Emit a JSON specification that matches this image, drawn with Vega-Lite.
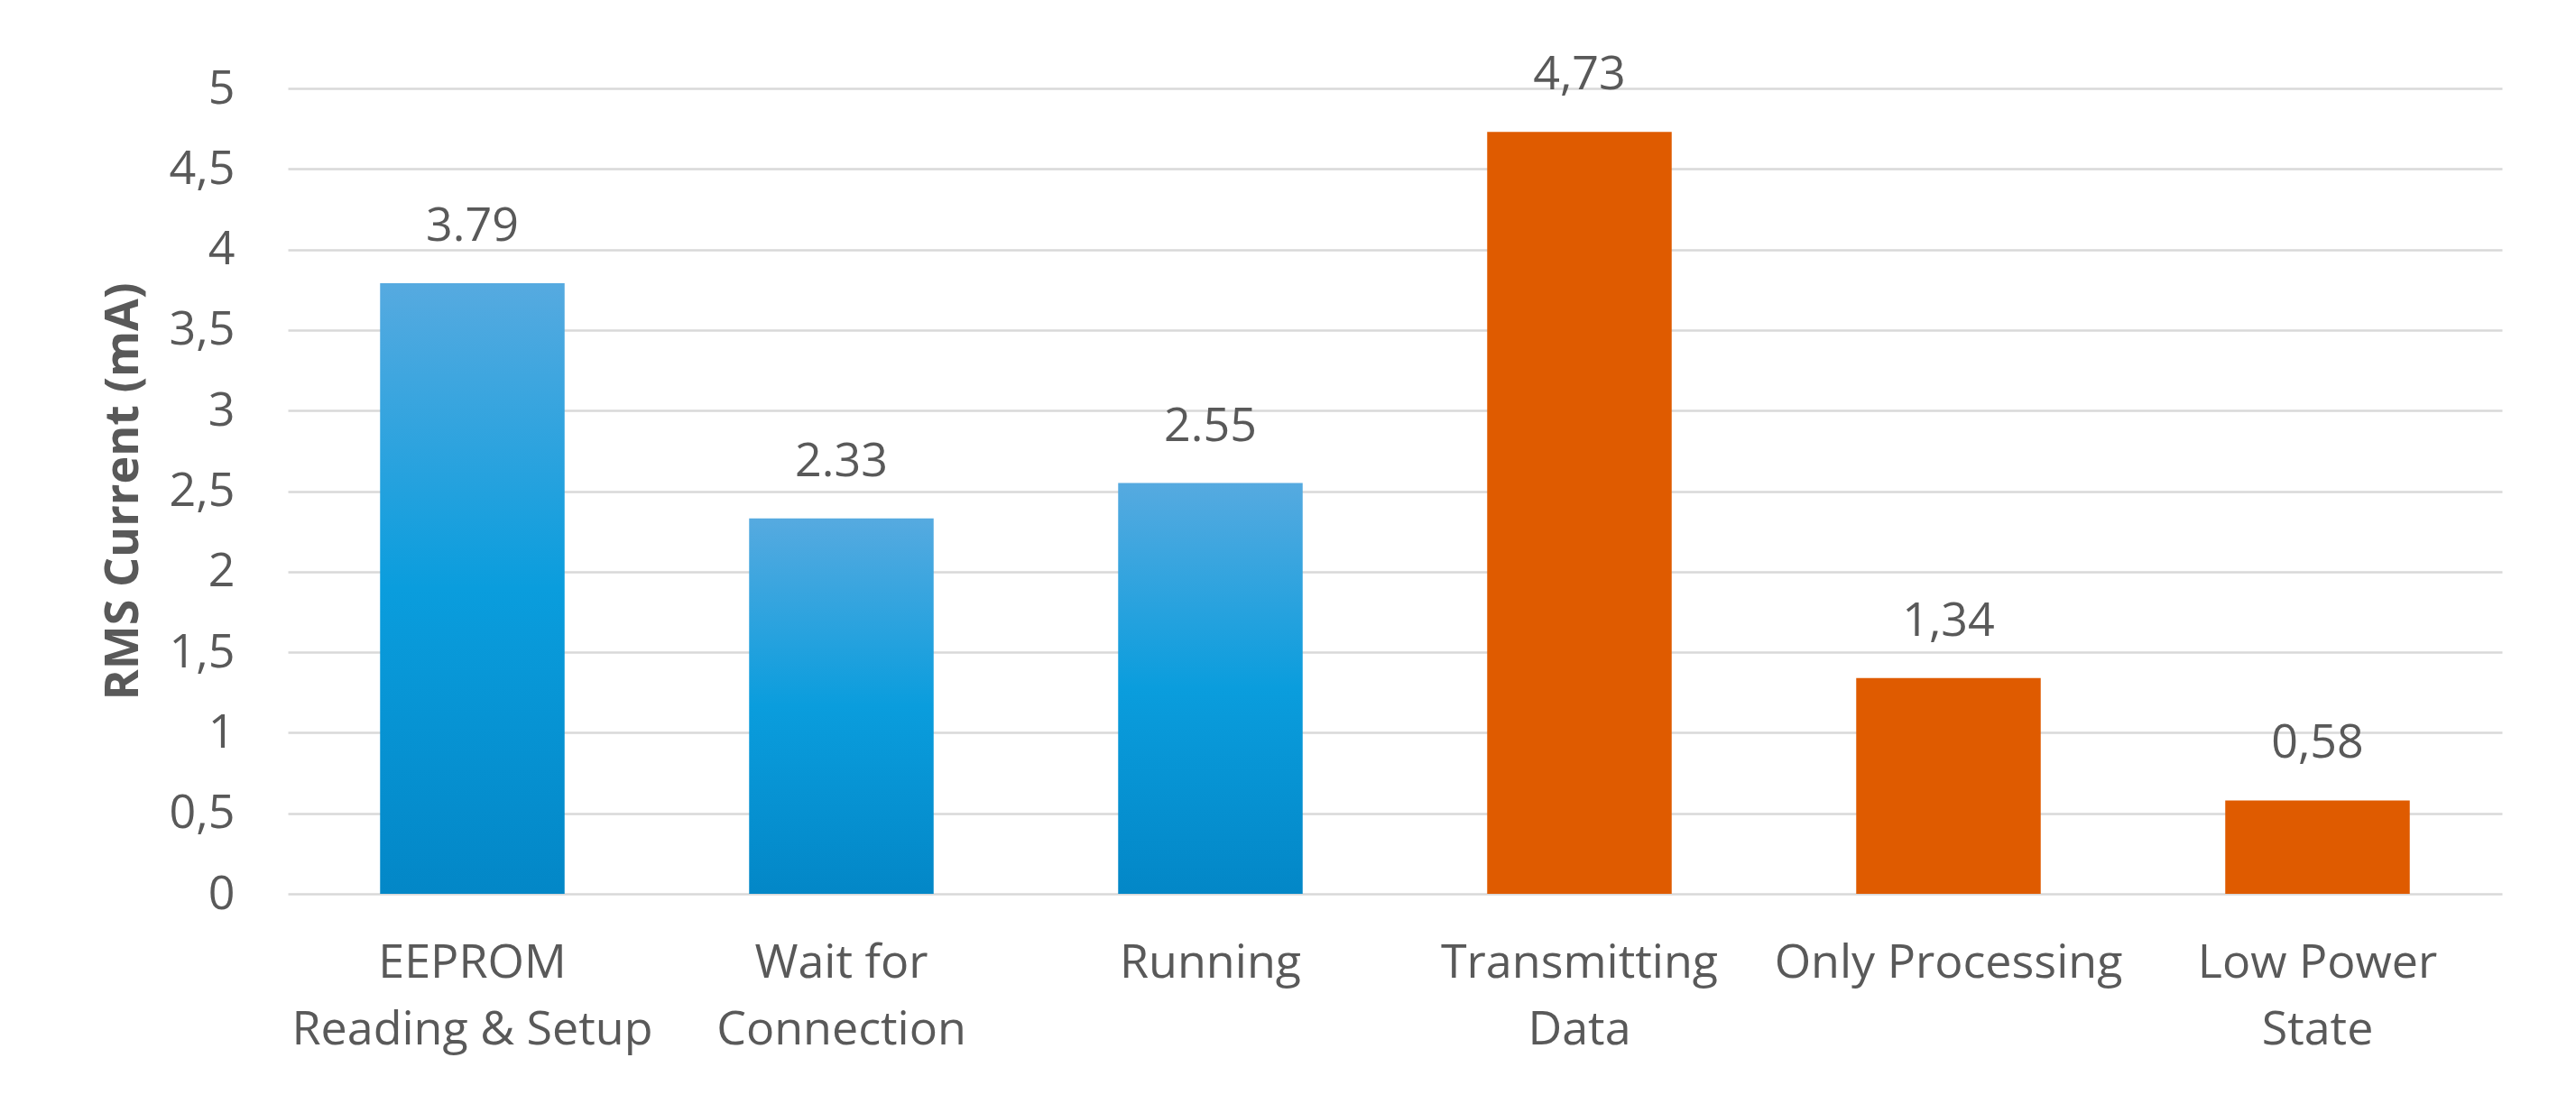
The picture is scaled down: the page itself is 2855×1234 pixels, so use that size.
{
  "$schema": "https://vega.github.io/schema/vega-lite/v6.json",
  "autosize": "none",
  "width": 2454,
  "height": 893,
  "padding": {"left": 319, "top": 98, "right": 82, "bottom": 243},
  "background": "white",
  "config": {
    "view": {"stroke": null},
    "font": "Open Sans"
  },
  "data": {
    "values": [
      {"state": "EEPROM Reading & Setup", "current": 3.79, "label": "3.79", "series": "Startup"},
      {"state": "Wait for Connection", "current": 2.33, "label": "2.33", "series": "Startup"},
      {"state": "Running", "current": 2.55, "label": "2.55", "series": "Startup"},
      {"state": "Transmitting Data", "current": 4.73, "label": "4,73", "series": "Operation"},
      {"state": "Only Processing", "current": 1.34, "label": "1,34", "series": "Operation"},
      {"state": "Low Power State", "current": 0.58, "label": "0,58", "series": "Operation"}
    ]
  },
  "encoding": {
    "x": {
      "field": "state",
      "type": "nominal",
      "sort": null,
      "scale": {"paddingInner": 0.5, "paddingOuter": 0.25},
      "axis": {
        "title": null,
        "domain": false,
        "ticks": false,
        "tickSize": 0,
        "labelAngle": 0,
        "labelFont": "Open Sans",
        "labelFontSize": 52,
        "labelColor": "#595959",
        "labelPadding": 51,
        "labelLineHeight": 74,
        "labelBaseline": "top",
        "labelLimit": 0,
        "labelOverlap": false,
        "labelExpr": "datum.value == 'EEPROM Reading & Setup' ? ['EEPROM', 'Reading & Setup'] : datum.value == 'Wait for Connection' ? ['Wait for', 'Connection'] : datum.value == 'Transmitting Data' ? ['Transmitting', 'Data'] : datum.value == 'Low Power State' ? ['Low Power', 'State'] : datum.value"
      }
    },
    "y": {
      "field": "current",
      "type": "quantitative",
      "scale": {"domain": [0, 5], "nice": false},
      "axis": {
        "title": "RMS Current (mA)",
        "titleFont": "Open Sans",
        "titleFontSize": 52,
        "titleFontWeight": "bold",
        "titleColor": "#595959",
        "titlePadding": 24,
        "values": [0, 0.5, 1, 1.5, 2, 2.5, 3, 3.5, 4, 4.5, 5],
        "domain": false,
        "ticks": false,
        "tickSize": 0,
        "labelFont": "Open Sans",
        "labelFontSize": 52,
        "labelColor": "#595959",
        "labelPadding": 59,
        "labelExpr": "replace(format(datum.value, '~g'), '.', ',')",
        "grid": true,
        "gridColor": "#d9d9d9",
        "gridWidth": 2.5
      }
    }
  },
  "layer": [
    {
      "transform": [{"filter": "datum.series == 'Startup'"}],
      "mark": {
        "type": "bar",
        "color": {
          "gradient": "linear",
          "x1": 0, "y1": 0, "x2": 0, "y2": 1,
          "stops": [
            {"offset": 0, "color": "#56aae0"},
            {"offset": 0.5, "color": "#0a9ddd"},
            {"offset": 1, "color": "#0387c7"}
          ]
        }
      }
    },
    {
      "transform": [{"filter": "datum.series == 'Operation'"}],
      "mark": {"type": "bar", "color": "#df5b00"}
    },
    {
      "mark": {
        "type": "text",
        "font": "Open Sans",
        "fontSize": 52,
        "color": "#595959",
        "baseline": "alphabetic",
        "dy": -47
      },
      "encoding": {
        "text": {"field": "label"}
      }
    }
  ]
}
